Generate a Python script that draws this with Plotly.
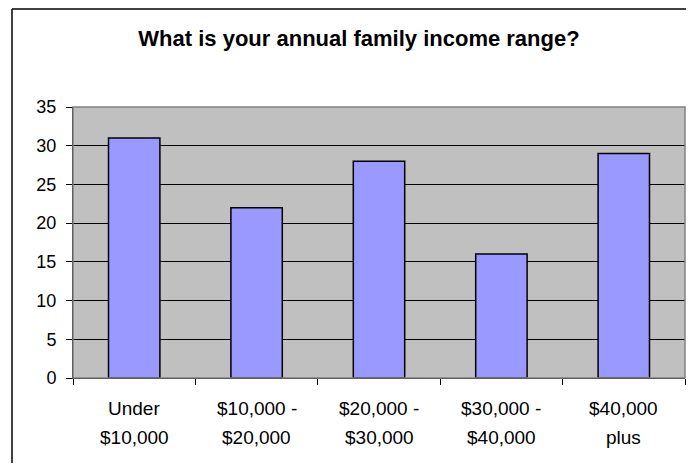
import plotly.graph_objects as go

categories = ["Under $10,000", "$10,000 - $20,000", "$20,000 - $30,000", "$30,000 - $40,000", "$40,000 plus"]
label_line1 = ["Under", "$10,000 -", "$20,000 -", "$30,000 -", "$40,000"]
label_line2 = ["$10,000", "$20,000", "$30,000", "$40,000", "plus"]
values = [31, 22, 28, 16, 29]
y_ticks = [0, 5, 10, 15, 20, 25, 30, 35]

# page body adds an 8px offset; figure sized to fit inside the window without scrollbars
OFF = 8
W, H = 678, 455
L, T = 73 - OFF, 107 - OFF
PR, PB = 685 - OFF, 378 - OFF
R, B = W - PR, H - PB
pw, ph = PR - L, PB - T

def px_x(px):
    return (px - OFF - L) / pw

def px_y(py):
    return (PB - (py - OFF)) / ph

FONT = "Liberation Sans, Arial, sans-serif"

fig = go.Figure(go.Bar(
    x=categories, y=values,
    marker=dict(color="#9999FF", line=dict(color="black", width=1.5)),
    width=0.42,
))

annotations = []
for c, a, b in zip(categories, label_line1, label_line2):
    annotations.append(dict(x=c, y=px_y(408), xref="x", yref="paper", text=a, showarrow=False,
                            yanchor="middle", font=dict(family=FONT, size=19, color="black")))
    annotations.append(dict(x=c, y=px_y(437), xref="x", yref="paper", text=b, showarrow=False,
                            yanchor="middle", font=dict(family=FONT, size=19, color="black")))

shapes = [
    dict(type="line", xref="paper", yref="paper", x0=px_x(12), x1=px_x(12), y0=px_y(9), y1=px_y(478),
         line=dict(color="black", width=1.5)),
    dict(type="line", xref="paper", yref="paper", x0=px_x(12), x1=px_x(700), y0=px_y(9), y1=px_y(9),
         line=dict(color="black", width=1.5)),
    dict(type="rect", xref="paper", yref="paper", x0=0, x1=1, y0=0, y1=1,
         line=dict(color="#808080", width=1.5), fillcolor="rgba(0,0,0,0)", layer="above"),
]

fig.update_layout(
    width=W, height=H,
    margin=dict(l=L, r=R, t=T, b=B),
    paper_bgcolor="white",
    plot_bgcolor="#C0C0C0",
    showlegend=False,
    title=dict(text="<b>What is your annual family income range?</b>",
               x=(359 - OFF) / W, xanchor="center",
               y=1 - (38 - OFF) / H, yanchor="middle",
               font=dict(family=FONT, size=22, color="black")),
    xaxis=dict(showticklabels=False, showline=True, linecolor="black", linewidth=1,
               ticks="outside", ticklen=6, tickcolor="black", tickson="boundaries",
               showgrid=False, zeroline=False, fixedrange=True),
    yaxis=dict(range=[0, 35], tickvals=y_ticks, showline=True, linecolor="black", linewidth=1,
               ticks="outside", ticklen=6, tickcolor="black",
               showgrid=True, gridcolor="black", gridwidth=1, zeroline=False,
               tickfont=dict(family=FONT, size=18, color="black"), ticklabelstandoff=6),
    annotations=annotations,
    shapes=shapes,
)

fig.write_html("out.html")
